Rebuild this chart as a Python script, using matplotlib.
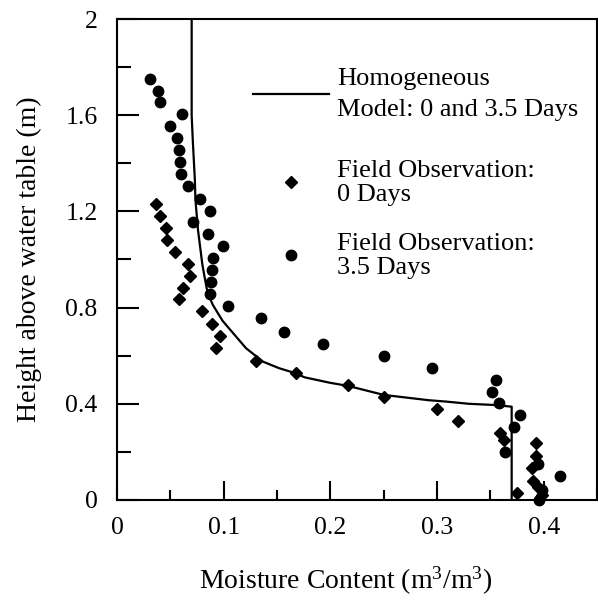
import numpy as np
import matplotlib
matplotlib.use('Agg')
import matplotlib.pyplot as plt
from matplotlib.legend import Legend
from matplotlib.ticker import MultipleLocator

plt.rcParams['font.family'] = ['Liberation Serif', 'DejaVu Serif']
plt.rcParams['mathtext.fontset'] = 'custom'
plt.rcParams['mathtext.rm'] = 'Liberation Serif'
plt.rcParams['mathtext.it'] = 'Liberation Serif:italic'

# Homogeneous model curve (moisture content, height)
model_theta = [0.070, 0.070, 0.071, 0.073, 0.0735, 0.076, 0.080, 0.082, 0.085, 0.090,
               0.099, 0.109, 0.121, 0.137, 0.152, 0.166, 0.176, 0.199, 0.217, 0.250,
               0.292, 0.309, 0.330, 0.354, 0.370, 0.370]
model_h = [2.00, 1.60, 1.50, 1.33, 1.25, 1.12, 0.98, 0.93, 0.86, 0.81,
           0.745, 0.693, 0.631, 0.575, 0.548, 0.529, 0.510, 0.488, 0.474, 0.437,
           0.415, 0.409, 0.400, 0.395, 0.388, 0.0]

# Field observation, 0 days (diamonds)
obs0_theta = [0.0365, 0.040, 0.046, 0.047, 0.054, 0.067, 0.068, 0.062, 0.058, 0.080,
              0.089, 0.097, 0.093, 0.130, 0.168, 0.217, 0.250, 0.300, 0.320, 0.359,
              0.363, 0.393, 0.393, 0.389, 0.390, 0.395, 0.398, 0.375]
obs0_h = [1.23, 1.18, 1.13, 1.08, 1.03, 0.98, 0.93, 0.88, 0.835, 0.785,
          0.73, 0.68, 0.63, 0.58, 0.53, 0.48, 0.43, 0.38, 0.33, 0.28,
          0.25, 0.235, 0.185, 0.135, 0.08, 0.055, 0.02, 0.03]

# Field observation, 3.5 days (circles)
obs35_theta = [0.031, 0.038, 0.040, 0.061, 0.050, 0.056, 0.058, 0.0595, 0.060, 0.067,
               0.078, 0.087, 0.071, 0.085, 0.099, 0.090, 0.089, 0.0885, 0.087, 0.104,
               0.135, 0.157, 0.193, 0.250, 0.295, 0.355, 0.352, 0.358, 0.378, 0.372,
               0.364, 0.395, 0.415, 0.398, 0.396]
obs35_h = [1.75, 1.70, 1.655, 1.605, 1.555, 1.505, 1.455, 1.405, 1.355, 1.305,
           1.25, 1.20, 1.155, 1.105, 1.055, 1.005, 0.955, 0.905, 0.855, 0.805,
           0.755, 0.70, 0.65, 0.60, 0.55, 0.50, 0.45, 0.405, 0.355, 0.305,
           0.20, 0.15, 0.10, 0.04, 0.0]

fig = plt.figure(figsize=(5.98, 6.02), dpi=100)
ax = fig.add_axes([117/598, 102/602, 480/598, 481/602])

h_model, = ax.plot(model_theta, model_h, color='black', lw=1.6)
h_obs0, = ax.plot(obs0_theta, obs0_h, ls='none', marker='D', ms=6.5, color='black',
                  clip_on=False)
h_obs35, = ax.plot(obs35_theta, obs35_h, ls='none', marker='o', ms=7.5, color='black',
                   clip_on=False)

ax.set_xlim(0, 0.45)
ax.set_ylim(0, 2)
ax.xaxis.set_minor_locator(MultipleLocator(0.05))
ax.yaxis.set_minor_locator(MultipleLocator(0.2))
ax.set_xticks([0, 0.1, 0.2, 0.3, 0.4])
ax.set_xticklabels(['0', '0.1', '0.2', '0.3', '0.4'])
ax.set_yticks([0, 0.4, 0.8, 1.2, 1.6, 2.0])
ax.set_yticklabels(['0', '0.4', '0.8', '1.2', '1.6', '2'])

ax.tick_params(axis='x', which='major', direction='in', length=14, width=1.5,
               labelsize=18.5, pad=12)
ax.tick_params(axis='x', which='minor', direction='in', length=7, width=1.5)
ax.tick_params(axis='y', which='major', direction='in', length=16, width=1.5,
               labelsize=18.5, pad=14)
ax.tick_params(axis='y', which='minor', direction='in', length=10, width=1.5)
for s in ax.spines.values():
    s.set_linewidth(1.5)

ax.set_xlabel('Moisture Content (m$^{3}$/m$^{3}$)', fontsize=20, labelpad=17)
ax.set_ylabel('Height above water table (m)', fontsize=20, labelpad=17)
ax.xaxis.set_label_coords(0.477, -0.135)

# one legend per entry so the uneven spacing of the original can be kept
entries = [
    (h_model, 'Homogeneous\nModel: 0 and 3.5 Days', 0.898, 1.5),
    (h_obs0, 'Field Observation:\n0 Days', 0.707, 1.1),
    (h_obs35, 'Field Observation:\n3.5 Days', 0.555, 1.1),
]
for handle, label, ytop, spacing in entries:
    leg = Legend(ax, [handle], [label], loc='upper left', bbox_to_anchor=(0.283, ytop),
                 frameon=False, fontsize=19, handlelength=2.9, handletextpad=0.3,
                 borderpad=0, borderaxespad=0)
    for t in leg.get_texts():
        t.set_linespacing(spacing)
    ax.add_artist(leg)

fig.savefig('out.png', dpi=100)
